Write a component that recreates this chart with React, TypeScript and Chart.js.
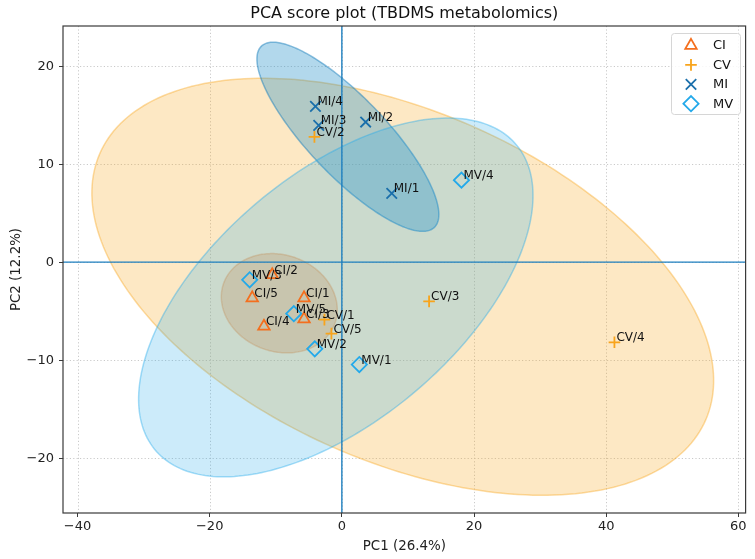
import { useEffect, useRef } from "react";
import { Chart, registerables } from "chart.js";
import { drawPoint } from "chart.js/helpers";

Chart.register(...registerables);

const TITLE = "PCA score plot (TBDMS metabolomics)";
const X_TITLE = "PC1 (26.4%)";
const Y_TITLE = "PC2 (12.2%)";

const X_TICKS = [-40, -20, 0, 20, 40, 60];
const Y_TICKS = [-20, -10, 0, 10, 20];
const X_MIN = -42.2;
const X_MAX = 61.1;
const Y_MIN = -25.6;
const Y_MAX = 24.1;

const GROUPS = ["CI", "CV", "MI", "MV"];

const CI_LABELS = ["CI/1", "CI/2", "CI/3", "CI/4", "CI/5"];
const CI_X = [-5.72, -10.54, -5.72, -11.79, -13.56];
const CI_Y = [-3.66, -1.29, -5.8, -6.55, -3.66];

const CV_LABELS = ["CV/1", "CV/2", "CV/3", "CV/4", "CV/5"];
const CV_X = [-2.64, -4.15, 13.2, 41.25, -1.58];
const CV_Y = [-5.87, 12.78, -4.0, -8.18, -7.29];

const MI_LABELS = ["MI/1", "MI/2", "MI/3", "MI/4"];
const MI_X = [7.55, 3.6, -3.5, -4.0];
const MI_Y = [7.02, 14.3, 13.96, 15.9];

const MV_LABELS = ["MV/1", "MV/2", "MV/3", "MV/4", "MV/5"];
const MV_X = [2.64, -4.1, -13.95, 18.1, -7.27];
const MV_Y = [-10.45, -8.85, -1.8, 8.37, -5.26];

const GROUP_LABELS = [CI_LABELS, CV_LABELS, MI_LABELS, MV_LABELS];
const GROUP_X = [CI_X, CV_X, MI_X, MV_X];
const GROUP_Y = [CI_Y, CV_Y, MI_Y, MV_Y];

// chi-square 95% quantile with 2 degrees of freedom
const CHI2_95 = 5.991;

const FONT = "'DejaVu Sans', 'Liberation Sans', sans-serif";

type GroupStyle = {
  color: string;
  pointStyle: string;
  radius: number;
  fill: string;
  edge: string;
};

const STYLES: GroupStyle[] = [
  { color: "#f46f1e", pointStyle: "triangle", radius: 6.6, fill: "rgba(240,110,30,0.24)", edge: "rgba(240,110,30,0.3)" },
  { color: "#f8a41c", pointStyle: "cross", radius: 5.8, fill: "rgba(248,165,27,0.26)", edge: "rgba(248,165,27,0.4)" },
  { color: "#1a6fab", pointStyle: "crossRot", radius: 7.4, fill: "rgba(30,140,200,0.34)", edge: "rgba(30,130,190,0.5)" },
  { color: "#23a9ea", pointStyle: "rectRot", radius: 7.6, fill: "rgba(34,170,234,0.23)", edge: "rgba(34,170,234,0.4)" },
];

const ZERO_LINE = "#1f80c0";

function confidenceEllipse(xs: number[], ys: number[]) {
  const n = xs.length;
  const mx = xs.reduce((s, v) => s + v, 0) / n;
  const my = ys.reduce((s, v) => s + v, 0) / n;
  let sxx = 0, syy = 0, sxy = 0;
  for (let i = 0; i < n; i++) {
    const dx = xs[i] - mx;
    const dy = ys[i] - my;
    sxx += dx * dx;
    syy += dy * dy;
    sxy += dx * dy;
  }
  sxx /= n - 1;
  syy /= n - 1;
  sxy /= n - 1;
  const tr = sxx + syy;
  const det = sxx * syy - sxy * sxy;
  const disc = Math.sqrt(Math.max(tr * tr / 4 - det, 0));
  const l1 = tr / 2 + disc;
  const l2 = Math.max(tr / 2 - disc, 0);
  const theta = Math.abs(sxy) < 1e-12 ? (sxx >= syy ? 0 : Math.PI / 2) : Math.atan2(l1 - sxx, sxy);
  const k = Math.sqrt(CHI2_95);
  return { mx, my, a: k * Math.sqrt(l1), b: k * Math.sqrt(l2), theta };
}

const decorPlugin = {
  id: "pcaDecor",
  beforeDatasetsDraw(chart: any) {
    const { ctx, chartArea: area, scales } = chart;
    const x = scales.x;
    const y = scales.y;
    ctx.save();

    // dotted grid
    ctx.strokeStyle = "#c4c4c4";
    ctx.lineWidth = 0.9;
    ctx.setLineDash([1.2, 2.2]);
    X_TICKS.forEach((v) => {
      const px = Math.round(x.getPixelForValue(v)) + 0.5;
      ctx.beginPath();
      ctx.moveTo(px, area.top);
      ctx.lineTo(px, area.bottom);
      ctx.stroke();
    });
    Y_TICKS.forEach((v) => {
      const py = Math.round(y.getPixelForValue(v)) + 0.5;
      ctx.beginPath();
      ctx.moveTo(area.left, py);
      ctx.lineTo(area.right, py);
      ctx.stroke();
    });
    ctx.setLineDash([]);

    // 95% confidence ellipses per group
    ctx.beginPath();
    ctx.rect(area.left, area.top, area.right - area.left, area.bottom - area.top);
    ctx.clip();
    GROUP_X.forEach((xs, gi) => {
      const e = confidenceEllipse(xs, GROUP_Y[gi]);
      const c = Math.cos(e.theta);
      const s = Math.sin(e.theta);
      ctx.beginPath();
      const steps = 240;
      for (let i = 0; i <= steps; i++) {
        const t = (2 * Math.PI * i) / steps;
        const u = e.a * Math.cos(t);
        const w = e.b * Math.sin(t);
        const px = x.getPixelForValue(e.mx + u * c - w * s);
        const py = y.getPixelForValue(e.my + u * s + w * c);
        if (i === 0) ctx.moveTo(px, py);
        else ctx.lineTo(px, py);
      }
      ctx.closePath();
      ctx.fillStyle = STYLES[gi].fill;
      ctx.fill();
      ctx.strokeStyle = STYLES[gi].edge;
      ctx.lineWidth = 1.5;
      ctx.stroke();
    });

    // zero reference lines
    ctx.strokeStyle = ZERO_LINE;
    ctx.lineWidth = 1.4;
    const x0 = x.getPixelForValue(0);
    const y0 = y.getPixelForValue(0);
    ctx.beginPath();
    ctx.moveTo(x0, area.top);
    ctx.lineTo(x0, area.bottom);
    ctx.moveTo(area.left, y0);
    ctx.lineTo(area.right, y0);
    ctx.stroke();
    ctx.restore();
  },
  afterDatasetsDraw(chart: any) {
    const { ctx, chartArea: area, scales } = chart;
    const x = scales.x;
    const y = scales.y;
    ctx.save();

    // sample labels
    ctx.font = `12px ${FONT}`;
    ctx.fillStyle = "#111";
    ctx.textAlign = "left";
    ctx.textBaseline = "alphabetic";
    GROUP_LABELS.forEach((labels, gi) => {
      labels.forEach((lab, i) => {
        const px = x.getPixelForValue(GROUP_X[gi][i]);
        const py = y.getPixelForValue(GROUP_Y[gi][i]);
        ctx.fillText(lab, px + 2, py - 1);
      });
    });

    // frame
    ctx.strokeStyle = "#3a3a3a";
    ctx.lineWidth = 1.2;
    ctx.strokeRect(area.left, area.top, area.right - area.left, area.bottom - area.top);

    // legend
    const lx = 671.5, ly = 33.5, lw = 69, lh = 81, r = 3;
    ctx.beginPath();
    ctx.moveTo(lx + r, ly);
    ctx.lineTo(lx + lw - r, ly);
    ctx.quadraticCurveTo(lx + lw, ly, lx + lw, ly + r);
    ctx.lineTo(lx + lw, ly + lh - r);
    ctx.quadraticCurveTo(lx + lw, ly + lh, lx + lw - r, ly + lh);
    ctx.lineTo(lx + r, ly + lh);
    ctx.quadraticCurveTo(lx, ly + lh, lx, ly + lh - r);
    ctx.lineTo(lx, ly + r);
    ctx.quadraticCurveTo(lx, ly, lx + r, ly);
    ctx.closePath();
    ctx.fillStyle = "rgba(255,255,255,0.85)";
    ctx.fill();
    ctx.strokeStyle = "#d6d6d6";
    ctx.lineWidth = 1;
    ctx.stroke();

    GROUPS.forEach((g, gi) => {
      const cy = 45.5 + gi * 19.4;
      const st = STYLES[gi];
      ctx.strokeStyle = st.color;
      ctx.fillStyle = "rgba(0,0,0,0)";
      ctx.lineWidth = 1.8;
      drawPoint(ctx, { pointStyle: st.pointStyle as any, radius: st.radius, rotation: 0, borderWidth: 1.8 }, 691, cy);
      ctx.fillStyle = "#111";
      ctx.font = `13px ${FONT}`;
      ctx.textBaseline = "middle";
      ctx.fillText(g, 713, cy + 0.5);
    });

    // title
    ctx.fillStyle = "#111";
    ctx.font = `16px ${FONT}`;
    ctx.textAlign = "center";
    ctx.textBaseline = "middle";
    ctx.fillText(TITLE, (area.left + area.right) / 2, 14);
    ctx.restore();
  },
};

const minus = (v: number) => String(v).replace("-", "\u2212");

export default function App() {
  const canvasRef = useRef<HTMLCanvasElement | null>(null);

  useEffect(() => {
    document.body.style.margin = "0";
    const canvas = canvasRef.current;
    if (!canvas) return;

    const datasets = GROUPS.map((g, gi) => ({
      label: g,
      data: GROUP_X[gi].map((v, i) => ({ x: v, y: GROUP_Y[gi][i] })),
      pointStyle: STYLES[gi].pointStyle,
      pointRadius: STYLES[gi].radius,
      pointHoverRadius: STYLES[gi].radius,
      borderColor: STYLES[gi].color,
      backgroundColor: "rgba(0,0,0,0)",
      pointBorderWidth: 1.8,
      borderWidth: 1.8,
      showLine: false,
    }));

    const tickFont = { family: FONT, size: 13 };
    const titleFont = { family: FONT, size: 13.4 };

    const chart = new Chart(canvas, {
      type: "scatter",
      data: { datasets: datasets as any },
      plugins: [decorPlugin],
      options: {
        responsive: false,
        animation: false,
        devicePixelRatio: 1,
        layout: { padding: { left: 0, right: 7, top: 26, bottom: 0 } },
        plugins: {
          legend: { display: false },
          tooltip: { enabled: false },
          title: { display: false },
        },
        events: [],
        scales: {
          x: {
            type: "linear",
            min: X_MIN,
            max: X_MAX,
            afterBuildTicks: (s: any) => {
              s.ticks = X_TICKS.map((v) => ({ value: v }));
            },
            afterFit: (s: any) => {
              s.height = 46;
            },
            grid: {
              display: true,
              drawOnChartArea: false,
              drawTicks: true,
              tickLength: 4,
              tickColor: "#3a3a3a",
              tickWidth: 1,
            },
            border: { display: false },
            ticks: {
              font: tickFont,
              color: "#222",
              padding: 2,
              maxRotation: 0,
              callback: (v: any) => minus(v),
            },
            title: {
              display: true,
              text: X_TITLE,
              font: titleFont,
              color: "#222",
              padding: { top: 0, bottom: 4 },
            },
          },
          y: {
            type: "linear",
            min: Y_MIN,
            max: Y_MAX,
            afterBuildTicks: (s: any) => {
              s.ticks = Y_TICKS.map((v) => ({ value: v }));
            },
            afterFit: (s: any) => {
              s.width = 63;
            },
            grid: {
              display: true,
              drawOnChartArea: false,
              drawTicks: true,
              tickLength: 4,
              tickColor: "#3a3a3a",
              tickWidth: 1,
            },
            border: { display: false },
            ticks: {
              font: tickFont,
              color: "#222",
              padding: 5,
              callback: (v: any) => minus(v),
            },
            title: {
              display: true,
              text: Y_TITLE,
              font: titleFont,
              color: "#222",
              padding: { top: 8, bottom: 0 },
            },
          },
        },
      },
    });

    return () => chart.destroy();
  }, []);

  return <canvas ref={canvasRef} width={755} height={559} style={{ display: "block" }} />;
}
